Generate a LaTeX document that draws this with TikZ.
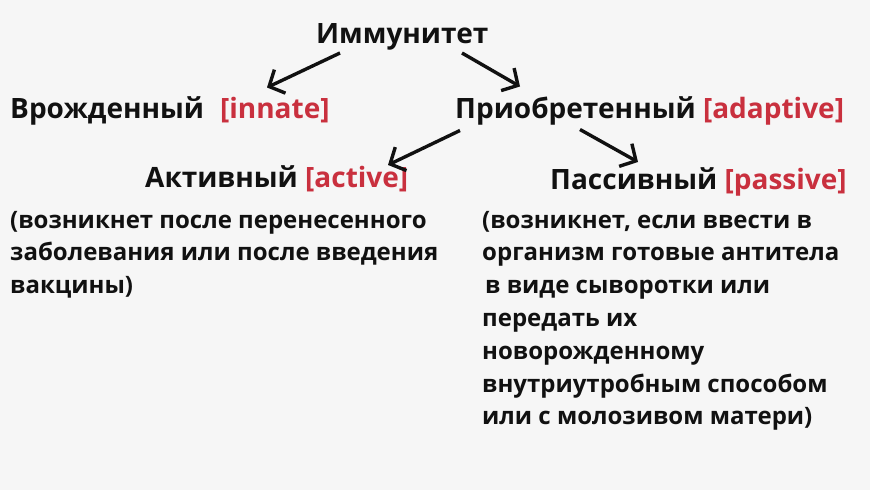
\documentclass[tikz,border=0pt]{standalone}
\usepackage{fontspec}
\setmainfont{Open Sans}[BoldFont={* Bold}]
\usetikzlibrary{arrows.meta}
\definecolor{bg}{HTML}{F6F6F6}
\definecolor{engred}{HTML}{C9303E}
\definecolor{ink}{HTML}{111111}
\tikzset{
  lbl/.style={anchor=base west, inner sep=0pt, text=ink, font=\bfseries\fontsize{28}{32}\selectfont},
  ttl/.style={lbl},
  desc/.style={anchor=base west, inner sep=0pt, text=ink, font=\bfseries\fontsize{24}{32.8}\selectfont},
  arr/.style={line width=3.4pt, ink, -{Straight Barb[length=12pt,width=26pt]}},
}
\newcommand{\eng}[1]{\textcolor{engred}{#1}}
\begin{document}
\begin{tikzpicture}[x=1pt,y=-1pt]
\fill[bg] (0,0) rectangle (870,490);
\useasboundingbox (0,0) rectangle (870,490);
\node[ttl] (title) at (316,43) {Иммунитет};
\node[lbl] (innate) at (10,118.5) {Врожденный\hspace{16pt}\eng{[innate]}};
\node[lbl] (adaptive) at (455,118.5) {Приобретенный \eng{[adaptive]}};
\node[lbl] (active) at (145,187) {Активный \eng{[active]}};
\node[lbl] (passive) at (550,189) {Пассивный \eng{[passive]}};
\node[desc] (actdesc) at (10,228) {\begin{tabular}[t]{@{}l@{}}(возникнет после перенесенного\\заболевания или после введения\\вакцины)\end{tabular}};
\node[desc] (pasdesc) at (482,228) {\begin{tabular}[t]{@{}l@{}}(возникнет, если ввести в\\организм готовые антитела\\\hspace{3pt}в виде сыворотки или\\передать их\\новорожденному\\внутриутробным способом\\или с молозивом матери)\end{tabular}};
\draw[arr] ([shift={(24,10)}]title.base west) -- ([shift={(257,-31)}]innate.base west);
\draw[arr] ([shift={(146,10)}]title.base west) -- ([shift={(65,-32)}]adaptive.base west);
\draw[arr] ([shift={(5,12)}]adaptive.base west) -- ([shift={(243,-22)}]active.base west);
\draw[arr] ([shift={(125,11)}]adaptive.base west) -- ([shift={(88,-27)}]passive.base west);
\end{tikzpicture}
\end{document}
